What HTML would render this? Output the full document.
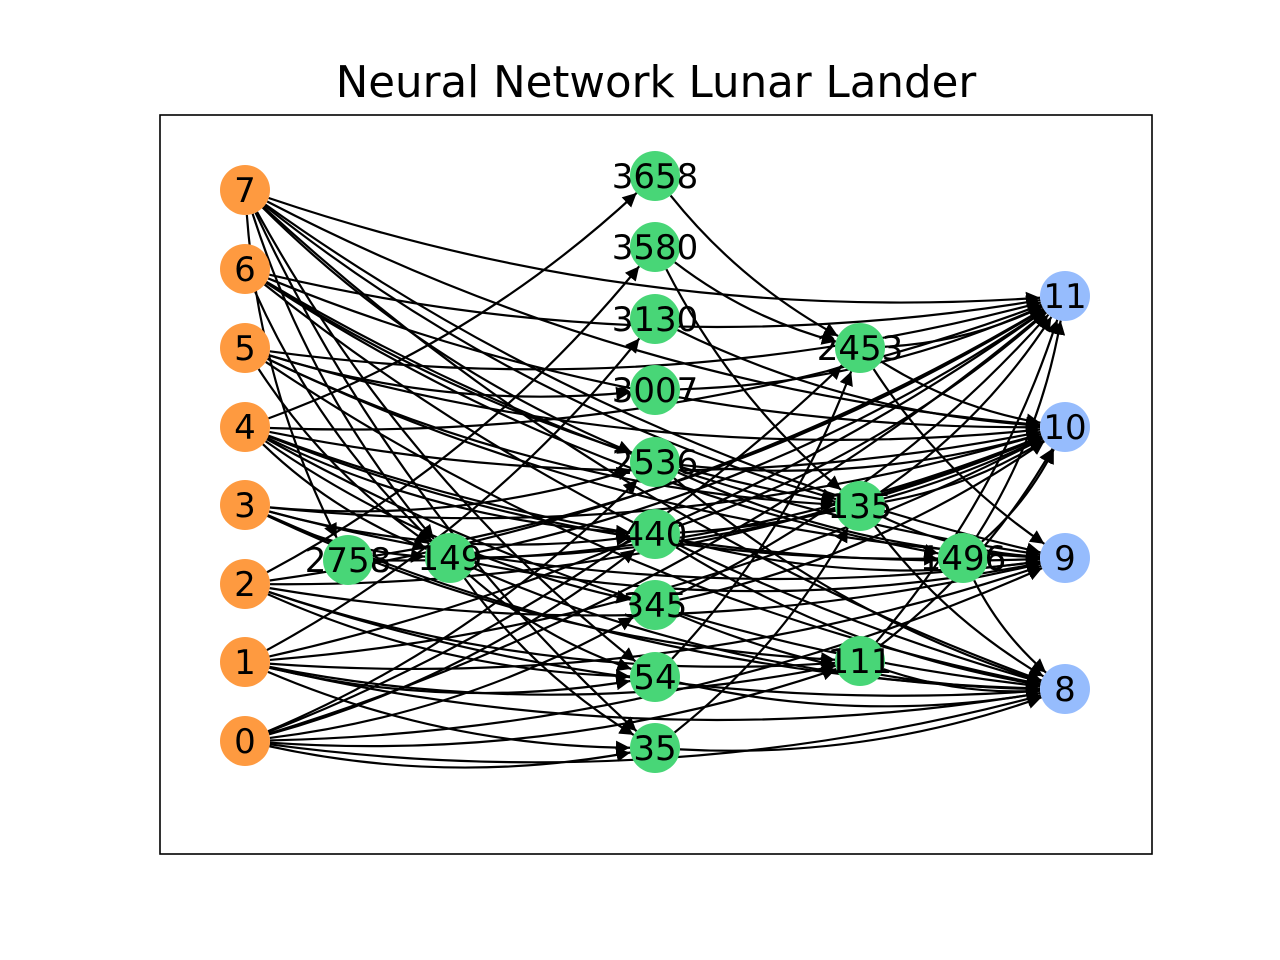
<!DOCTYPE html>
<html><head><meta charset="utf-8"><style>
html,body{margin:0;padding:0;background:#fff;width:1280px;height:960px;overflow:hidden}
svg{display:block}
text{font-family:"DejaVu Sans","Liberation Sans",sans-serif}
</style></head><body>
<svg id="s" width="1280" height="960" viewBox="0 0 1280 960">
<defs><marker id="a" viewBox="0 0 10 10" refX="10" refY="5" markerWidth="14" markerHeight="14" markerUnits="userSpaceOnUse" orient="auto"><path d="M0,0 L10,5 L0,10 z" fill="#000"/></marker></defs>
<text x="656" y="97" font-size="43.5" text-anchor="middle">Neural Network Lunar Lander</text>
<rect x="160" y="115" width="992" height="739" fill="none" stroke="#000" stroke-width="1.6"/>
<g id="e" fill="none" stroke="#000" stroke-width="2.2"></g>
<g id="n"></g>
</svg>
<script>
var P={7:[245,190],6:[245,269],5:[245,348],4:[245,427],3:[245,505],2:[245,584],1:[245,662],0:[245,741],
3658:[655,176],3580:[655,247],3130:[655,319],3007:[655,390],2536:[655,462],440:[655,534],345:[655,605],54:[655,677],35:[655,748],
2758:[348,560],149:[450,558],2453:[860,348],135:[860,506],111:[860,661],1496:[963,558],
11:[1065,296],10:[1065,427],9:[1065,558],8:[1065,689]};
var C={};[7,6,5,4,3,2,1,0].forEach(k=>C[k]="#fe9a40");[11,10,9,8].forEach(k=>C[k]="#96bcfd");
var E={7:[11,10,9,8,135,2536,149,2758,35,54],6:[11,10,9,8,135,149,1496],5:[11,10,9,8,149,135,3007],
4:[3658,10,11,9,8,440,345,149,1496],3:[10,9,8,2536,440,149,111],2:[3580,11,10,9,8,111,54],
1:[3130,11,10,9,8,54,35,111],0:[2536,440,345,11,9,8,35,111,2453],
3658:[2453],3580:[2453,135],3130:[10],3007:[11],2536:[9,8,10],440:[11,10,9,8],345:[11,10,8],54:[8,2453],35:[8,135],
111:[8,11,10],135:[11,10,9,8],1496:[11,10,8],2453:[11,10,9],149:[10,11,9,8,35,54],2758:[11,10]};
var ns="http://www.w3.org/2000/svg",eg=document.getElementById('e'),ng=document.getElementById('n');
var R=25,rad=0.1;
for(var s in E){E[s].forEach(function(t){var a=P[s],b=P[t];var dx=b[0]-a[0],dy=b[1]-a[1];
var mx=(a[0]+b[0])/2,my=(a[1]+b[1])/2;var cx=mx-rad*dy,cy=my+rad*dx;
function tr(p,q){var ux=q[0]-p[0],uy=q[1]-p[1],l=Math.hypot(ux,uy);return [p[0]+ux/l*R,p[1]+uy/l*R];}
var s1=tr(a,[cx,cy]),e1=tr(b,[cx,cy]);
var p=document.createElementNS(ns,'path');p.setAttribute('d','M'+s1+' Q'+cx+','+cy+' '+e1);p.setAttribute('marker-end','url(#a)');eg.appendChild(p);});}
for(var k in P){var c=document.createElementNS(ns,'circle');c.setAttribute('cx',P[k][0]);c.setAttribute('cy',P[k][1]);c.setAttribute('r',25);c.setAttribute('fill',C[k]||"#48d677");ng.appendChild(c);
var t=document.createElementNS(ns,'text');t.setAttribute('x',P[k][0]);t.setAttribute('y',P[k][1]+12);t.setAttribute('font-size','34');t.setAttribute('text-anchor','middle');t.textContent=k;ng.appendChild(t);}
</script>
</body></html>
